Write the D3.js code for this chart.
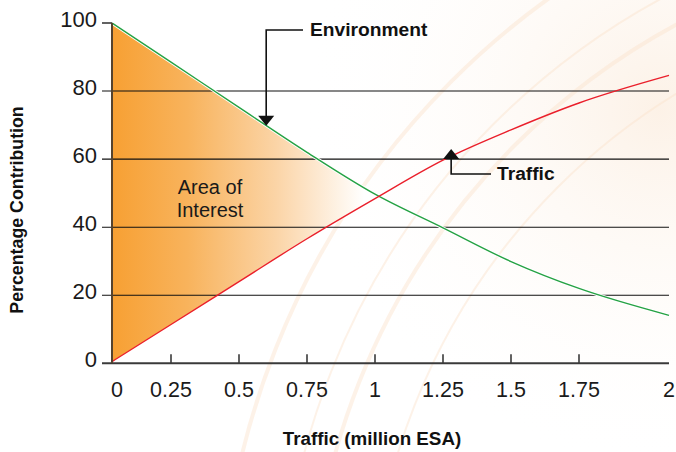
<!DOCTYPE html>
<html>
<head>
<meta charset="utf-8">
<script src="https://cdn.jsdelivr.net/npm/d3@7"></script>
<style>
  html, body { margin: 0; padding: 0; background: #fff; }
  svg { display: block; font-family: "Liberation Sans", Arial, Helvetica, sans-serif; }
</style>
</head>
<body>
<svg id="chart" width="676" height="452"></svg>
<script>
// Traffic in million ESA at each tick
const traffic = [0, 0.25, 0.5, 0.75, 1, 1.25, 1.5, 1.75, 2];
// Percentage contribution of each factor
const environment = [100, 88.5, 75.2, 62, 49.7, 39.8, 29.9, 22, 14.1];
const trafficShare = [0.5, 11.4, 24, 36.6, 48.4, 59.7, 68.6, 76.5, 84.6];
// Axis labels
const xTickLabels = ["0", "0.25", "0.5", "0.75", "1", "1.25", "1.5", "1.75", "2"];
const yTicks = [0, 20, 40, 60, 80, 100];
const gridValues = [20, 40, 60, 80];

const svg = d3.select("#chart");

// x axis spacing: the first interval is a little narrower than the rest
const x = d3.scaleLinear().domain([0, 0.25, 1.75, 2]).range([112, 171, 579, 669]);
const y = d3.scaleLinear().domain([0, 100]).range([363.3, 23]);

const defs = svg.append("defs");
const grad = defs.append("linearGradient")
  .attr("id", "aoiFill").attr("gradientUnits", "userSpaceOnUse")
  .attr("x1", x(0)).attr("x2", 364).attr("y1", 0).attr("y2", 0);
grad.append("stop").attr("offset", 0).attr("stop-color", "#f7a033");
grad.append("stop").attr("offset", 0.3).attr("stop-color", "#f8b35c");
grad.append("stop").attr("offset", 0.65).attr("stop-color", "#fbd4a6");
grad.append("stop").attr("offset", 1).attr("stop-color", "#ffffff");

const glow = defs.append("radialGradient").attr("id", "glow")
  .attr("gradientUnits", "userSpaceOnUse")
  .attr("cx", 660).attr("cy", 110).attr("r", 360);
glow.append("stop").attr("offset", 0).attr("stop-color", "#fcf0e4").attr("stop-opacity", 0.9);
glow.append("stop").attr("offset", 1).attr("stop-color", "#ffffff").attr("stop-opacity", 0);

defs.append("clipPath").attr("id", "leftOfCross")
  .append("rect").attr("x", x(0)).attr("y", 0).attr("width", 380 - x(0)).attr("height", 452);

// soft decorative background sweep
const bg = svg.append("g");
bg.append("rect").attr("width", 676).attr("height", 452).attr("fill", "url(#glow)");
const arcRadii = [640, 700, 730, 790];
bg.selectAll("circle").data(arcRadii).join("circle")
  .attr("cx", 1010).attr("cy", 640).attr("r", d => d)
  .attr("fill", "none")
  .attr("stroke", "#fbe2cb")
  .attr("stroke-opacity", 0.45)
  .attr("stroke-width", (d, i) => i % 2 ? 4 : 2);

const pts = traffic.map((t, i) => ({ t, env: environment[i], tr: trafficShare[i] }));

// area of interest between the two curves
svg.append("path")
  .datum(pts)
  .attr("clip-path", "url(#leftOfCross)")
  .attr("fill", "url(#aoiFill)")
  .attr("d", d3.area().curve(d3.curveMonotoneX)
    .x(d => x(d.t)).y0(d => y(d.tr)).y1(d => y(d.env)));

// horizontal grid lines
svg.append("g").selectAll("line").data(gridValues).join("line")
  .attr("x1", 102).attr("x2", 669)
  .attr("y1", d => y(d)).attr("y2", d => y(d))
  .attr("stroke", "#111").attr("stroke-width", 1.1);

// curves
const lineGen = key => d3.line().curve(d3.curveMonotoneX).x(d => x(d.t)).y(d => y(d[key]));
svg.append("path").datum(pts).attr("fill", "none")
  .attr("stroke", "#ffffff").attr("stroke-width", 3.2).attr("d", lineGen("env"));
svg.append("path").datum(pts).attr("fill", "none")
  .attr("stroke", "#25a244").attr("stroke-width", 1.4).attr("d", lineGen("env"));
svg.append("path").datum(pts).attr("fill", "none")
  .attr("stroke", "#ea1f2b").attr("stroke-width", 1.4).attr("d", lineGen("tr"));

// axes
const xAxis = svg.append("g");
xAxis.append("line").attr("x1", 102).attr("x2", 669).attr("y1", y(0)).attr("y2", y(0))
  .attr("stroke", "#3a3a3a").attr("stroke-width", 2);
xAxis.selectAll("line.tick").data(traffic.slice(1, -1)).join("line")
  .attr("class", "tick")
  .attr("x1", d => x(d)).attr("x2", d => x(d))
  .attr("y1", y(0)).attr("y2", y(0) - 9)
  .attr("stroke", "#3a3a3a").attr("stroke-width", 1.6);
xAxis.selectAll("text").data(traffic).join("text")
  .attr("x", (d, i) => x(d) + (i === 0 ? 5 : 0))
  .attr("y", 397)
  .attr("text-anchor", "middle")
  .attr("font-size", 21.5)
  .attr("fill", "#1a1a1a")
  .text((d, i) => xTickLabels[i]);

const yAxis = svg.append("g");
yAxis.append("line").attr("x1", 102).attr("x2", 112).attr("y1", y(100)).attr("y2", y(100))
  .attr("stroke", "#3a3a3a").attr("stroke-width", 1.6);
yAxis.append("line").attr("x1", x(0)).attr("x2", x(0)).attr("y1", y(100)).attr("y2", y(0))
  .attr("stroke", "#55432f").attr("stroke-width", 2);
yAxis.selectAll("text").data(yTicks).join("text")
  .attr("x", 97)
  .attr("y", d => y(d) + 4)
  .attr("text-anchor", "end")
  .attr("font-size", 22)
  .attr("fill", "#1a1a1a")
  .text(d => d);

// axis titles
svg.append("text")
  .attr("transform", "translate(23,210) rotate(-90)")
  .attr("text-anchor", "middle")
  .attr("font-size", 17.8).attr("font-weight", "bold").attr("fill", "#111")
  .text("Percentage Contribution");
svg.append("text")
  .attr("x", 372).attr("y", 445)
  .attr("text-anchor", "middle")
  .attr("font-size", 18.8).attr("font-weight", "bold").attr("fill", "#111")
  .text("Traffic (million ESA)");

// region label
const aoi = svg.append("text").attr("text-anchor", "middle").attr("font-size", 20).attr("fill", "#1a1a1a");
aoi.append("tspan").attr("x", 210).attr("y", 194).text("Area of");
aoi.append("tspan").attr("x", 210).attr("y", 217).text("Interest");

// callouts
const envT = 0.6, trT = 1.28;
const envX = x(envT), envY = y(environment[0] + (environment[4] - environment[0]) * (envT / 1)) ;
const callouts = svg.append("g").attr("fill", "#111").attr("stroke", "#111");
callouts.append("path").attr("fill", "none").attr("stroke-width", 1.6)
  .attr("d", `M303,30 H${envX} V${envY - 9}`);
callouts.append("path").attr("stroke", "none")
  .attr("d", `M${envX - 8},${envY - 10} H${envX + 8} L${envX},${envY} Z`);
callouts.append("text").attr("stroke", "none")
  .attr("x", 310).attr("y", 36).attr("font-size", 19.2).attr("font-weight", "bold")
  .text("Environment");

const trX = x(trT), trY = 149;
callouts.append("path").attr("fill", "none").attr("stroke-width", 1.6)
  .attr("d", `M${trX},${trY + 9} V174 H491`);
callouts.append("path").attr("stroke", "none")
  .attr("d", `M${trX - 8},${trY + 10} H${trX + 8} L${trX},${trY} Z`);
callouts.append("text").attr("stroke", "none")
  .attr("x", 497).attr("y", 180).attr("font-size", 19.2).attr("font-weight", "bold")
  .text("Traffic");
</script>
</body>
</html>
